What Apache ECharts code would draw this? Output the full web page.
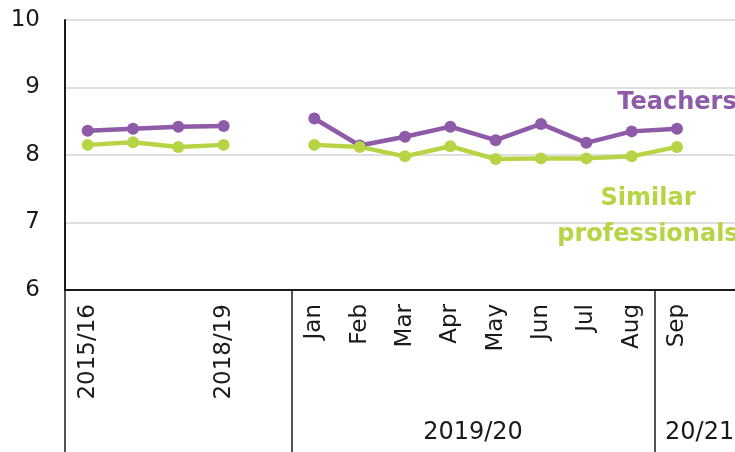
<!DOCTYPE html>
<html lang="en">
<head>
<meta charset="UTF-8">
<title>Teachers vs similar professionals</title>
<script src="https://cdn.jsdelivr.net/npm/echarts@6.0.0/dist/echarts.min.js"></script>
<style>
    body { margin: 0; background: #fff; }
    #chart { width: 735px; height: 452px; }
</style>
</head>
<body>
<div id="chart"></div>
<script>
    // categories along the bottom ('' = spacer slots)
    var categories = ['2015/16', '2016/17', '2017/18', '2018/19', '', 'Jan', 'Feb', 'Mar', 'Apr', 'May', 'Jun', 'Jul', 'Aug', 'Sep', ''];
    var hiddenLabels = ['2016/17', '2017/18'];
    var teachers = [8.36, 8.39, 8.42, 8.43, null, 8.54, 8.14, 8.27, 8.42, 8.22, 8.46, 8.18, 8.35, 8.39, null];
    var similar = [8.15, 8.19, 8.12, 8.15, null, 8.15, 8.12, 7.98, 8.13, 7.94, 7.95, 7.95, 7.98, 8.12, null];
    // period groups under the month labels, by number of categories they cover
    var periods = [{name: '', size: 5}, {name: '2019/20', size: 8}, {name: '20/21', size: 2}];
    var yTicks = [6, 7, 8, 9, 10];

    var textColor = '#1a1a1a';
    var purple = '#8d5ba7';
    var green = '#b7d444';

    // second axis with half-category slots, so group edges and centres fall on slots
    var periodSlots = [], edgeSlots = [];
    for (var k = 0; k <= categories.length * 2; k++) periodSlots.push('');
    var start = 0;
    periods.forEach(function (p) {
        edgeSlots.push(start * 2);
        periodSlots[start * 2 + p.size] = p.name;
        start += p.size;
    });
    edgeSlots.push(start * 2);

    function withEndLabel(values, text, labelOpt) {
        var last = -1;
        values.forEach(function (v, i) { if (v != null) last = i; });
        return values.map(function (v, i) {
            if (i !== last) return v;
            return {value: v, label: Object.assign({show: true, formatter: text}, labelOpt)};
        });
    }

    var chart = echarts.init(document.getElementById('chart'));
    chart.setOption({
        animation: false,
        textStyle: {fontFamily: 'DejaVu Sans'},
        grid: {left: 65, top: 20, width: 680, height: 270, containLabel: false, outerBoundsMode: 'none'},
        xAxis: [{
            type: 'category',
            data: categories,
            boundaryGap: true,
            axisLine: {lineStyle: {color: textColor, width: 2}},
            axisTick: {show: false},
            axisLabel: {
                rotate: 90,
                margin: 14,
                fontSize: 23,
                color: textColor,
                interval: function (i, v) { return hiddenLabels.indexOf(v) < 0; }
            },
            splitLine: {show: false}
        }, {
            type: 'category',
            data: periodSlots,
            boundaryGap: false,
            position: 'bottom',
            axisLine: {show: false},
            axisTick: {
                show: true,
                length: 165,
                interval: function (i) { return edgeSlots.indexOf(i) >= 0; },
                lineStyle: {color: textColor, width: 1.5}
            },
            axisLabel: {
                margin: 131,
                fontSize: 24,
                color: textColor,
                interval: function (i, v) { return v !== ''; }
            },
            splitLine: {show: false}
        }],
        yAxis: {
            type: 'value',
            min: yTicks[0],
            max: yTicks[yTicks.length - 1],
            interval: 1,
            axisLine: {show: true, lineStyle: {color: textColor, width: 2}},
            axisTick: {show: false},
            axisLabel: {fontSize: 23, color: textColor, margin: 25},
            splitLine: {lineStyle: {color: '#d4d4d4', width: 1.5}}
        },
        series: [{
            name: 'Teachers',
            type: 'line',
            data: withEndLabel(teachers, 'Teachers', {
                position: 'top', distance: 8, color: purple,
                fontSize: 24, fontWeight: 'bold'
            }),
            connectNulls: false,
            symbol: 'circle',
            symbolSize: 12,
            itemStyle: {color: purple},
            lineStyle: {color: purple, width: 4.5}
        }, {
            name: 'Similar professionals',
            type: 'line',
            data: withEndLabel(similar, 'Similar\nprofessionals', {
                position: 'bottom', distance: 28, offset: [-29, 0], color: green,
                fontSize: 24, fontWeight: 'bold', lineHeight: 36, align: 'center'
            }),
            connectNulls: false,
            symbol: 'circle',
            symbolSize: 12,
            itemStyle: {color: green},
            lineStyle: {color: green, width: 4.5}
        }]
    });
</script>
</body>
</html>
